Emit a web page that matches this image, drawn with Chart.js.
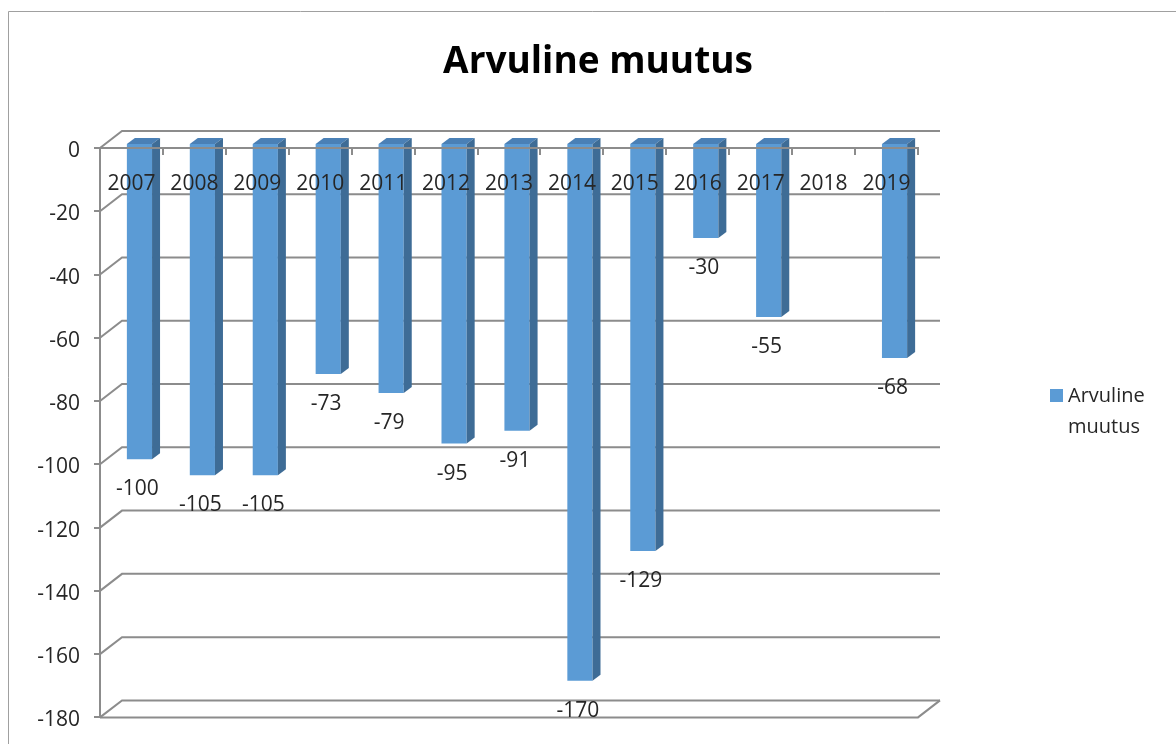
<!DOCTYPE html>
<html>
<head>
<meta charset="utf-8">
<script src="https://cdn.jsdelivr.net/npm/chart.js@4.4.1/dist/chart.umd.min.js"></script>
<style>
  html, body { margin: 0; padding: 0; background: #fff; }
  #wrap { width: 1176px; height: 744px; }
</style>
</head>
<body>
<div id="wrap"><canvas id="myChart" width="1176" height="744"></canvas></div>
<script>
// data
const years = ['2007', '2008', '2009', '2010', '2011', '2012', '2013', '2014', '2015', '2016', '2017', '2018', '2019'];
const changes = [-100, -105, -105, -73, -79, -95, -91, -170, -129, -30, -55, null, -68];
const yMin = -180;
const yMax = 0;
const yStep = 20;
const seriesName = 'Arvuline muutus';
const legendLines = ['Arvuline', 'muutus'];

// look
const FONT = "'Open Sans', 'Noto Sans', sans-serif";
const TEXT = '#262626';
const GRID = 'rgb(140,140,140)';
const FRONT = 'rgb(91,155,213)';
const SIDE = 'rgb(62,108,150)';
const TOP = 'rgb(74,128,182)';

const wall = { dx: 22, dy: -17 };     // back wall offset
const shift = { dx: 8, dy: -5 };      // bars sit a bit inside the box
const side = { dx: 8, dy: -6 };       // bar depth

const boxPlugin = {
  id: 'box3d',
  beforeDraw(chart) {
    const ctx = chart.ctx;
    ctx.save();
    ctx.fillStyle = '#fff';
    ctx.fillRect(0, 0, chart.width, chart.height);
    ctx.strokeStyle = 'rgb(160,160,160)';
    ctx.lineWidth = 1;
    ctx.beginPath();
    ctx.moveTo(8.5, chart.height);
    ctx.lineTo(8.5, 11.5);
    ctx.lineTo(chart.width, 11.5);
    ctx.stroke();
    ctx.restore();
  },
  beforeDatasetsDraw(chart) {
    const ctx = chart.ctx;
    const { left, right, bottom } = chart.chartArea;
    const y = chart.scales.y;
    ctx.save();
    ctx.strokeStyle = GRID;
    ctx.lineWidth = 2;
    y.ticks.forEach(t => {
      const p = y.getPixelForValue(t.value);
      ctx.beginPath();
      ctx.moveTo(left, p);
      ctx.lineTo(left + wall.dx, p + wall.dy);
      ctx.lineTo(right + wall.dx, p + wall.dy);
      ctx.stroke();
    });
    // front edge of the floor
    ctx.beginPath();
    ctx.moveTo(left, bottom);
    ctx.lineTo(right, bottom);
    ctx.lineTo(right + wall.dx, bottom + wall.dy);
    ctx.stroke();
    ctx.restore();

    ctx.save();
    ctx.translate(shift.dx, shift.dy);
  },
  afterDatasetsDraw(chart) {
    const ctx = chart.ctx;
    const meta = chart.getDatasetMeta(0);
    meta.data.forEach((bar, i) => {
      if (changes[i] == null) return;
      const { x, y, base, width } = bar.getProps(['x', 'y', 'base', 'width'], true);
      const x1 = x - width / 2, x2 = x + width / 2;
      const top = Math.min(y, base), bot = Math.max(y, base);
      ctx.fillStyle = TOP;
      ctx.beginPath();
      ctx.moveTo(x1, top);
      ctx.lineTo(x2, top);
      ctx.lineTo(x2 + side.dx, top + side.dy);
      ctx.lineTo(x1 + side.dx, top + side.dy);
      ctx.closePath();
      ctx.fill();
      ctx.fillStyle = SIDE;
      ctx.beginPath();
      ctx.moveTo(x2, top);
      ctx.lineTo(x2 + side.dx, top + side.dy);
      ctx.lineTo(x2 + side.dx, bot + side.dy);
      ctx.lineTo(x2, bot);
      ctx.closePath();
      ctx.fill();
    });
    ctx.restore();

    // value labels under each bar
    const ys = chart.scales.y;
    ctx.save();
    ctx.font = '21px ' + FONT;
    ctx.fillStyle = TEXT;
    ctx.textAlign = 'center';
    ctx.textBaseline = 'middle';
    meta.data.forEach((bar, i) => {
      const v = changes[i];
      if (v == null) return;
      ctx.fillText(String(v), bar.x + 6, ys.getPixelForValue(v) + 25);
    });
    ctx.restore();

    // legend
    ctx.save();
    ctx.fillStyle = FRONT;
    ctx.fillRect(1050, 389, 13, 13);
    ctx.font = '20px ' + FONT;
    ctx.fillStyle = TEXT;
    ctx.textBaseline = 'alphabetic';
    legendLines.forEach((line, k) => ctx.fillText(line, 1068, 402 + k * 31));
    ctx.restore();
  }
};

const ctx = document.getElementById('myChart');

new Chart(ctx, {
  type: 'bar',
  plugins: [boxPlugin],
  data: {
    labels: years,
    datasets: [{
      label: seriesName,
      data: changes,
      backgroundColor: FRONT,
      borderWidth: 0,
      categoryPercentage: 1,
      barPercentage: 0.4
    }]
  },
  options: {
    responsive: false,
    animation: false,
    events: [],
    layout: { padding: { left: 30, right: 10, top: 14, bottom: 26 } },
    plugins: {
      legend: { display: false },
      tooltip: { enabled: false },
      title: {
        display: true,
        text: seriesName,
        color: '#000',
        font: { family: FONT, size: 37, weight: 'bold' },
        padding: { top: 26, bottom: 63.6 }
      }
    },
    scales: {
      x: {
        position: { y: 0 },
        grid: { display: true, drawOnChartArea: false, drawTicks: true, tickLength: 6, color: GRID, lineWidth: 2, offset: true, z: 1 },
        border: { display: true, color: GRID, width: 2, z: 1 },
        ticks: { color: TEXT, font: { family: FONT, size: 21 }, padding: 17, maxRotation: 0, autoSkip: false, z: 1 }
      },
      y: {
        min: yMin,
        max: yMax,
        afterFit: s => { s.width = 70; },
        grid: { drawOnChartArea: false, drawTicks: true, tickLength: 6, color: GRID, lineWidth: 2 },
        border: { display: true, color: GRID, width: 2 },
        ticks: { stepSize: yStep, color: TEXT, font: { family: FONT, size: 21 }, padding: 14, labelOffset: 3 }
      },
      yR: {
        position: 'right',
        afterFit: s => { s.width = 248; },
        grid: { display: false },
        border: { display: false },
        ticks: { display: false }
      }
    }
  }
});
</script>
</body>
</html>
